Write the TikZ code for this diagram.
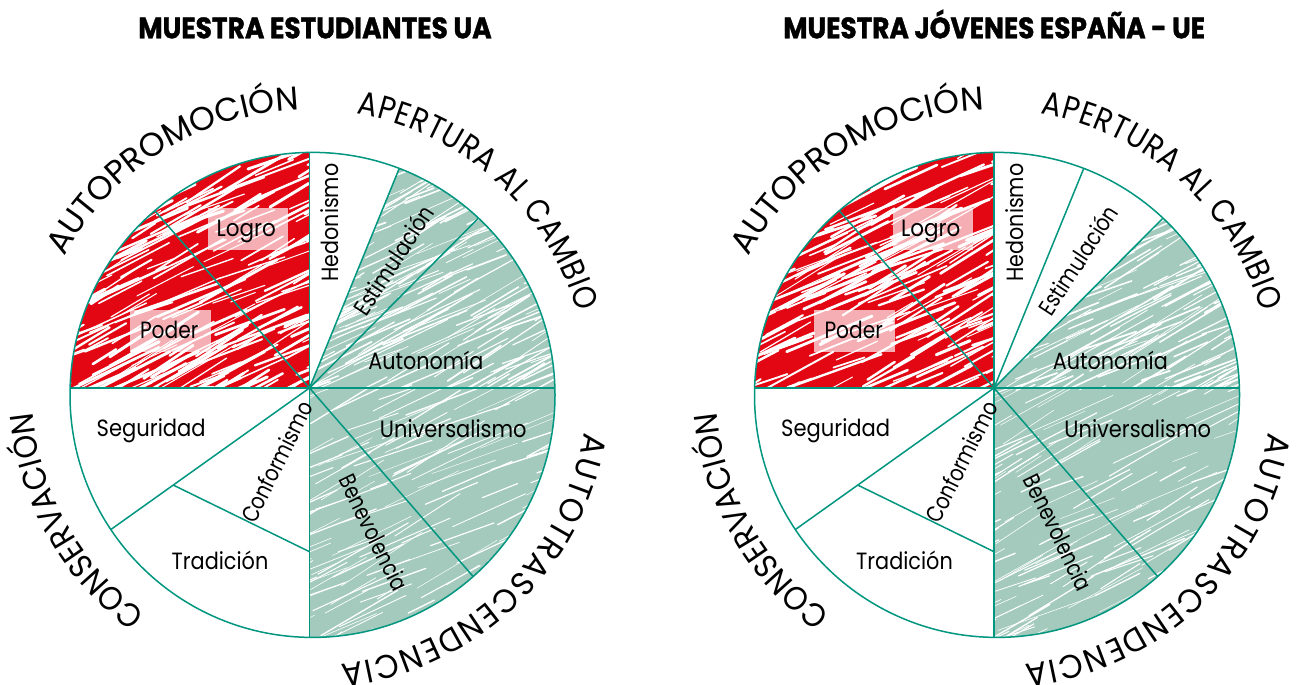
\documentclass[tikz,border=0pt]{standalone}
\usepackage{fontspec}
\setmainfont{Poppins}
\newfontfamily\outerfontA[FakeStretch=1.0]{Poppins}
\newfontfamily\outerfontB[FakeStretch=0.87]{Poppins}
\newfontfamily\outerfontC[FakeStretch=0.92]{Poppins}
\newfontfamily\outerfontD[FakeStretch=0.95]{Poppins}
\newfontfamily\titlefont[BoldFeatures={FakeBold=1.4}]{Poppins}
\usetikzlibrary{decorations.text}
\definecolor{tealline}{RGB}{0,150,128}
\definecolor{redfill}{RGB}{227,6,19}
\definecolor{greenfill}{RGB}{163,202,188}
\tikzset{
  spoke/.style={draw=tealline,line width=1.5pt},
  lbl/.style={inner sep=0pt,text=black},
  pinkbox/.style={fill=white,fill opacity=0.68,inner sep=0pt,draw=none},
}
\newcommand\lab[2]{\resizebox{#1pt}{\height}{\fontsize{23.5}{24}\selectfont #2}}
\def\fmtA{\outerfontA\fontsize{33}{33}\selectfont}
\def\fmtB{\outerfontB\fontsize{33}{33}\selectfont}
\def\fmtC{\outerfontC\fontsize{33}{33}\selectfont}
\def\fmtD{\outerfontD\fontsize{33}{33}\selectfont}
\newcommand\cpt[2]{\coordinate (#1) at ({312.5+242.5*cos(#2)},{290.1+242.5*sin(#2)});}
% #1 format, #2 start, #3 end, #4 text
\newcommand\outerlab[4]{%
  \path[decorate,decoration={text along path,text align={fit to path},text={|#1|#4}}]
    ({309.5+278*cos(#2)},{297+278*sin(#2)}) arc[start angle=#2,end angle=#3,radius=278];}
\newcommand\streaks[6]{%
  \foreach \i in {1,...,#5}{%
    \pgfmathsetmacro\sx{#1+rnd*#3}%
    \pgfmathsetmacro\sy{#2+rnd*#4}%
    \pgfmathsetmacro\sl{25+rnd*80}%
    \pgfmathsetmacro\sa{18+rnd*16}%
    \pgfmathsetmacro\sw{#6*(0.4+rnd)}%
    \draw[white,line width=\sw pt,line cap=round] (\sx,\sy) -- ++(\sa:\sl);%
  }}
% #1 green start angle, #2 title, #3 title width, #4 title centre x, #5 prefix
\newcommand\wheel[5]{%
  \coordinate (#5H) at (309.5,297);
  \coordinate (#5C) at (312.5,290.1);
  \cpt{#5pL}{178.37}\cpt{#5pR}{1.63}\cpt{#5pT}{90.71}\cpt{#5pB}{-90.71}
  \cpt{#5pLP}{130.58}\cpt{#5pHE}{69.04}\cpt{#5pEA}{46.81}
  \cpt{#5pST}{213.73}\cpt{#5pUB}{-48.51}\cpt{#5pG}{#1}
  \coordinate (#5Bp) at (173.3,199.9);
  \coordinate (#5V) at (309.5,133.3);
  % red quadrant
  \begin{scope}
    \clip (#5H) -- (#5pL) arc[start angle=178.37,end angle=90.71,radius=242.5] -- cycle;
    \fill[redfill] (60,290) rectangle (320,540);
    \streaks{-20}{240}{330}{293}{300}{2.2}
  \end{scope}
  % upper green
  \begin{scope}
    \clip (#5H) -- (#5pG) arc[start angle=#1,end angle=1.63,radius=242.5] -- cycle;
    \fill[greenfill] (300,290) rectangle (560,540);
    \streaks{220}{240}{335}{277}{280}{1.3}
  \end{scope}
  % lower green
  \begin{scope}
    \clip (#5H) -- (#5pR) arc[start angle=1.63,end angle=-90.71,radius=242.5] -- cycle;
    \fill[greenfill] (300,40) rectangle (560,300);
    \streaks{220}{-10}{335}{307}{190}{1.0}
  \end{scope}
  % pink boxes
  \node[pinkbox,minimum width=80pt,minimum height=41.7pt] (#5logrobox) at (248.3,455.8) {};
  \node[pinkbox,minimum width=80.7pt,minimum height=41.7pt] (#5poderbox) at (170.3,354.2) {};
  % lines
  \draw[spoke] (#5C) circle[radius=242.5];
  \draw[spoke] (#5pT) -- (#5pB);
  \draw[spoke] (#5pL) -- (#5pR);
  \draw[spoke] (#5H) -- (#5pLP);
  \draw[spoke] (#5H) -- (#5pHE);
  \draw[spoke] (#5H) -- (#5pEA);
  \draw[spoke] (#5H) -- (#5pST);
  \draw[spoke] (#5Bp) -- (#5V);
  \draw[spoke] (#5H) -- (#5pUB);
  % inner labels
  \node[lbl,anchor=base] (#5logro) at (246.3,448.3) {\lab{59.3}{Logro}};
  \node[lbl,anchor=base] (#5poder) at (169.2,346.7) {\lab{58.3}{Poder}};
  \node[lbl,rotate=90] (#5hed) at (330,462.5) {\lab{118}{Hedonismo}};
  \node[lbl,rotate=56.8] (#5est) at (393.3,425) {\lab{125}{Estimulación}};
  \node[lbl,anchor=base] (#5aut) at (425.8,315) {\lab{115}{Autonomía}};
  \node[lbl,anchor=base] (#5seg) at (151.2,248.3) {\lab{109}{Seguridad}};
  \node[lbl,rotate=63.5] (#5con) at (276.7,223.3) {\lab{132}{Conformismo}};
  \node[lbl,anchor=base] (#5tra) at (220,115.7) {\lab{96.7}{Tradición}};
  \node[lbl,anchor=base] (#5uni) at (453.3,247.7) {\lab{146.7}{Universalismo}};
  \node[lbl,rotate=-64] (#5ben) at (374,152.5) {\lab{126}{Benevolencia}};
  % outer labels
  \outerlab{\fmtA}{151.9}{93.4}{AUTOPROMOCIÓN}
  \outerlab{\fmtB}{80.3}{15.8}{APERTURA AL CAMBIO}
  \outerlab{\fmtC}{234}{186}{CONSERVACIÓN}
  \outerlab{\fmtD}{-9.3}{-83.6}{AUTOTRASCENDENCIA}
  % title
  \node[lbl,anchor=base] (#5title) at (#4,646.7)
    {\resizebox{#3pt}{\height}{\titlefont\fontsize{29.5}{30}\selectfont\bfseries #2}};
}
\begin{document}
\begin{tikzpicture}[x=1pt,y=1pt]
\useasboundingbox (0,0) rectangle (1301,685);
\fill[white] (0,0) rectangle (1301,685);
\pgfmathsetseed{7}
\wheel{69.04}{MUESTRA ESTUDIANTES UA}{353.4}{315}{a}
\begin{scope}[shift={(684.5,0)}]
\wheel{46.81}{MUESTRA JÓVENES ESPAÑA - UE}{421.7}{309.7}{b}
\end{scope}
\end{tikzpicture}
\end{document}
